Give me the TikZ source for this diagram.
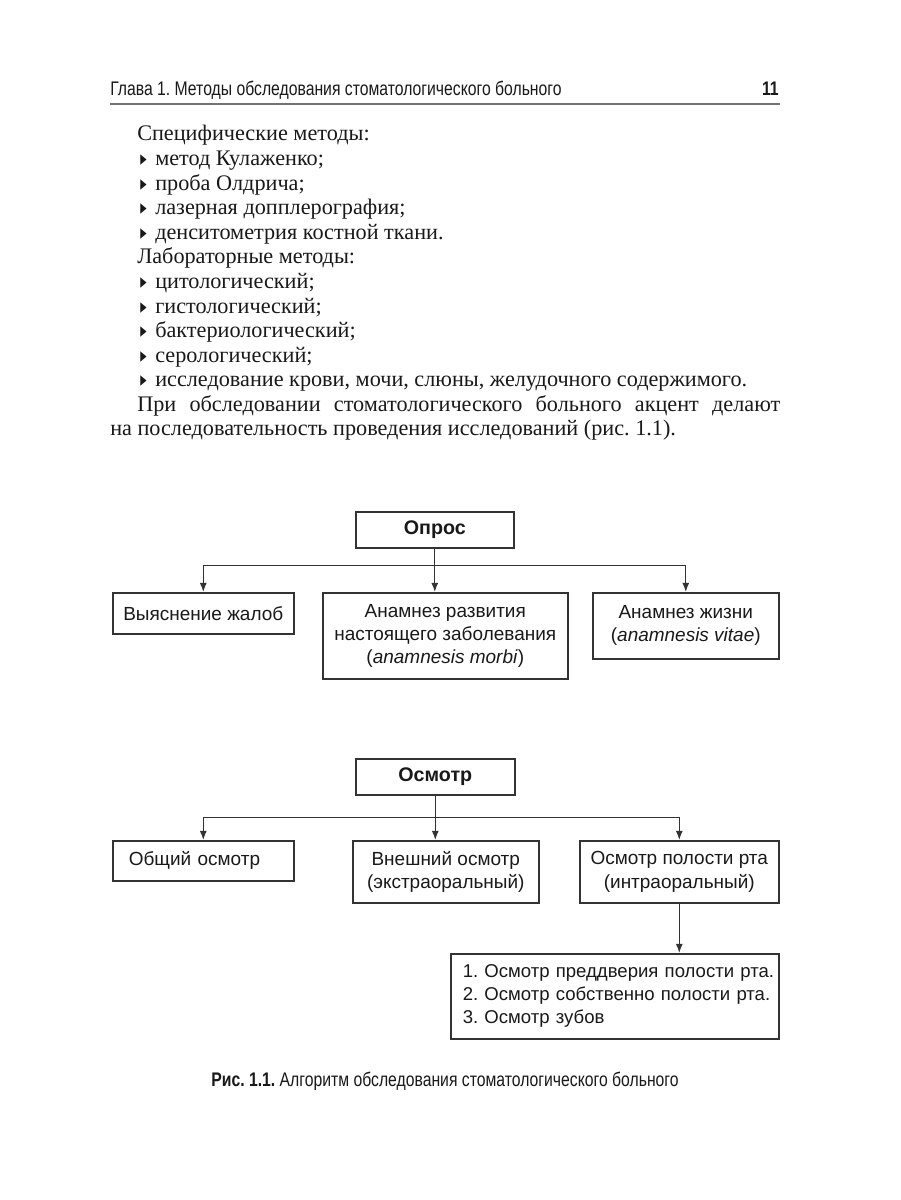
\documentclass[tikz,border=0pt]{standalone}
\usepackage{fontspec}
\setmainfont{Liberation Serif}
\newfontfamily\boxfont{Liberation Sans}
\newfontfamily\headfont[FakeStretch=0.80]{Liberation Sans}
\newfontfamily\symfont{DejaVu Sans}
\usetikzlibrary{arrows.meta,positioning}
\frenchspacing
\newlength\px
\setlength\px{0.025cm}
\newcommand\bul{\makebox[15\px][l]{\scalebox{0.6}[1]{\symfont\fontsize{15}{15}\selectfont ▸}}}
\tikzset{
  txt/.style={anchor=base west, inner sep=0pt, text=black!90, font=\fontsize{15.8}{17.5}\selectfont},
  head/.style={anchor=base west, inner sep=0pt, text=black!90, font=\headfont\fontsize{14}{16}\selectfont},
  blk/.style={draw=black!80, line width=1.1pt, anchor=north west, inner sep=0pt, align=center,
    text=black!90, font=\boxfont\fontsize{13.5}{16.5}\selectfont},
  ttl/.style={blk, font=\boxfont\bfseries\fontsize{14}{16}\selectfont},
  lblk/.style={blk, align=left},
  arr/.style={-{Latex[length=6.5pt,width=5pt]}, line width=0.9pt, draw=black!80},
}
\begin{document}
\begin{tikzpicture}[x=\px, y=-\px]
\fill[white] (0,0) rectangle (900,1200);
\useasboundingbox (0,0) rectangle (900,1200);
% колонтитул
\node[head] (glava) at (110,96) {Глава 1. Методы обследования стоматологического больного};
\node[head, anchor=base east, font=\headfont\bfseries\fontsize{14}{16}\selectfont] (stran) at (779,96) {11};
\draw[line width=2.5\px, black!55] (110,104) -- (780,104);
% текст страницы
\node[txt] (spec) at (137,141) {Специфические методы:};
\foreach \kk/\lab in {1/{метод Кулаженко;}, 2/{проба Олдрича;}, 3/{лазерная допплерография;},
    4/{денситометрия костной ткани.}, 6/{цитологический;}, 7/{гистологический;},
    8/{бактериологический;}, 9/{серологический;},
    10/{исследование крови, мочи, слюны, желудочного содержимого.}}{
  \node[txt] (p\kk) at (140,{141+24.58*\kk}) {\bul\lab};
}
\node[txt] (lab) at (137,{141+24.58*5}) {Лабораторные методы:};
\node[txt] (pri) at (137,{141+24.58*11}) {\makebox[643\px][s]{При обследовании стоматологического больного акцент делают}};
\node[txt] (posl) at (110,{141+24.58*12}) {на последовательность проведения исследований (рис.~1.1).};
% схема: опрос
\node[ttl, minimum width=158\px, minimum height=36\px] (opros) at (355,511) {Опрос};
\node[blk, minimum width=181\px, minimum height=41\px] (vyav) at (112,592) {Выяснение жалоб};
\node[blk, minimum width=245\px, minimum height=86\px] (morbi) at (322,592)
  {Анамнез развития\\настоящего заболевания\\(\textit{anamnesis morbi})};
\node[blk, minimum width=186\px, minimum height=66\px] (vitae) at (592,592)
  {Анамнез жизни\\(\textit{anamnesis vitae})};
\path (opros.south) ++(0,17) coordinate (oj);
\draw[arr] (opros.south) -- (opros.south |- morbi.north);
\draw[arr] (oj) -| (vyav.north);
\draw[arr] (oj) -| (vitae.north);
% схема: осмотр
\node[ttl, minimum width=159\px, minimum height=36\px] (osmotr) at (355,758) {Осмотр};
\node[lblk, minimum height=40\px, text width=149\px, inner xsep=16\px] (obsh) at (112,840) {Общий осмотр};
\node[blk, minimum width=186\px, minimum height=62\px] (vnesh) at (352,840)
  {Внешний осмотр\\(экстраоральный)};
\node[blk, minimum width=199\px, minimum height=62\px] (intra) at (579,840)
  {Осмотр полости рта\\(интраоральный)};
\node[lblk, minimum height=85\px, text width=304\px, inner xsep=12\px, font=\boxfont\fontsize{13.2}{16.3}\selectfont] (spisok) at (450,953)
  {\mbox{1. Осмотр преддверия полости рта.}\\\mbox{2. Осмотр собственно полости рта.}\\\mbox{3. Осмотр зубов}};
\path (osmotr.south) ++(0,22) coordinate (sj);
\draw[arr] (osmotr.south) -- (osmotr.south |- vnesh.north);
\draw[arr] (sj) -| (obsh.north);
\draw[arr] (sj) -| (intra.north);
\draw[arr] (intra.south) -- (intra.south |- spisok.north);
% подпись
\node[head, anchor=base] (podpis) at (445,1086) {\bfseries Рис. 1.1.\ \mdseries Алгоритм обследования стоматологического больного};
\end{tikzpicture}
\end{document}
